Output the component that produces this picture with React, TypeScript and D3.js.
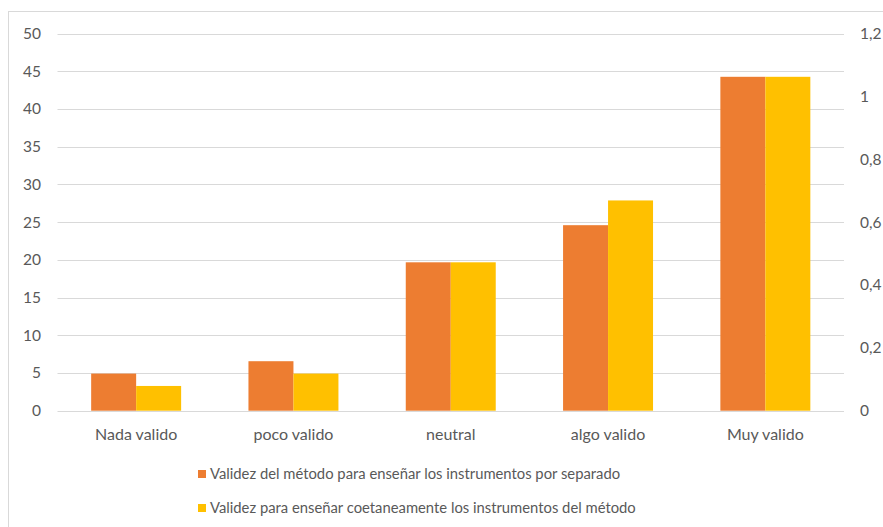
import React from "react";
import * as d3 from "d3";

const categories = ["Nada valido", "poco valido", "neutral", "algo valido", "Muy valido"];
const seriesNames = [
  "Validez del método para enseñar los instrumentos por separado",
  "Validez para enseñar coetaneamente los instrumentos del método",
];
const seriesSeparado = [4.92, 6.56, 19.67, 24.59, 44.26];
const seriesCoetaneo = [3.28, 4.92, 19.67, 27.87, 44.26];
const leftTicks = [0, 5, 10, 15, 20, 25, 30, 35, 40, 45, 50];
const rightTicks = [0, 0.2, 0.4, 0.6, 0.8, 1, 1.2];
const colors = ["#ED7D31", "#FFC000"];

const W = 883;
const H = 527;
const FONT = "Lato, 'Open Sans', sans-serif";
const TEXT = "#595959";

export default function App() {
  const margin = { left: 57.5, right: 844, top: 33.5, bottom: 410.7 };
  const x = d3
    .scaleBand<string>()
    .domain(categories)
    .range([margin.left, margin.right])
    .paddingInner(0.428)
    .paddingOuter(0.214);
  const xs = d3.scaleBand<number>().domain([0, 1]).range([0, x.bandwidth()]);
  const yL = d3.scaleLinear().domain([0, 50]).range([margin.bottom, margin.top]);
  const yR = d3.scaleLinear().domain([0, 1.2]).range([margin.bottom, margin.top]);
  const fmtR = (v: number) => d3.format(".1~f")(v).replace(".", ",");
  const series = [seriesSeparado, seriesCoetaneo];

  return (
    <svg
      width={W}
      height={H}
      style={{ position: "fixed", left: 0, top: 0, background: "#fff" }}
      fontFamily={FONT}
    >
      <rect x={0} y={0} width={W} height={H} fill="#fff" />
      <rect x={8.5} y={11.5} width={W + 20} height={H + 20} fill="none" stroke="#d9d9d9" strokeWidth={1} />
      {leftTicks.map((t) => (
        <line
          key={t}
          x1={margin.left}
          x2={margin.right}
          y1={Math.round(yL(t)) + 0.5}
          y2={Math.round(yL(t)) + 0.5}
          stroke="#d9d9d9"
          strokeWidth={1}
        />
      ))}
      {series.map((vals, si) =>
        vals.map((v, i) => (
          <rect
            key={`${si}-${i}`}
            x={(x(categories[i]) ?? 0) + (xs(si) ?? 0)}
            y={yL(v)}
            width={xs.bandwidth()}
            height={yL(0) - yL(v)}
            fill={colors[si]}
          />
        ))
      )}
      {leftTicks.map((t) => (
        <text key={t} x={41} y={yL(t)} dy="0.35em" textAnchor="end" fontSize={15.5} fill={TEXT}>
          {t}
        </text>
      ))}
      {rightTicks.map((t) => (
        <text key={t} x={860} y={yR(t)} dy="0.35em" textAnchor="start" fontSize={15.5} fill={TEXT}>
          {fmtR(t)}
        </text>
      ))}
      {categories.map((c) => (
        <text
          key={c}
          x={(x(c) ?? 0) + x.bandwidth() / 2}
          y={434}
          dy="0.35em"
          textAnchor="middle"
          fontSize={16}
          fill={TEXT}
        >
          {c}
        </text>
      ))}
      {seriesNames.map((n, i) => (
        <g key={n} transform={`translate(198, ${474 + i * 34})`}>
          <rect x={0} y={-4} width={8} height={8} fill={colors[i]} />
          <text x={12} y={0} dy="0.35em" fontSize={14.8} fill={TEXT}>
            {n}
          </text>
        </g>
      ))}
    </svg>
  );
}
